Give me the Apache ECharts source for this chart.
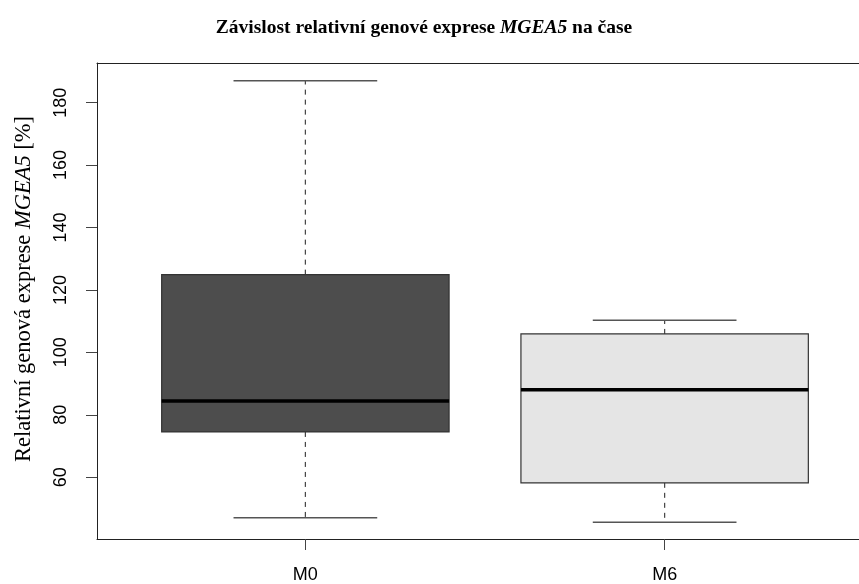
<!DOCTYPE html>
<html>
<head>
<meta charset="utf-8">
<script src="https://cdn.jsdelivr.net/npm/echarts@6/dist/echarts.min.js"></script>
<style>html,body{margin:0;padding:0;background:#fff}#c{width:859px;height:584px}</style>
</head>
<body>
<div id="c"></div>
<script>
// Data
const categories = ['M0', 'M6'];
const whiskerLow = [47.0, 45.6];
const q1 = [74.5, 58.2];
const median = [84.4, 88.0];
const q3 = [124.9, 105.9];
const whiskerHigh = [187.0, 110.3];
const yTicks = [60, 80, 100, 120, 140, 160, 180];

// Styles
const boxFills = ['#4d4d4d', '#e5e5e5'];

const data = categories.map((c, i) => [i + 1, whiskerLow[i], q1[i], median[i], q3[i], whiskerHigh[i]]);

const chart = echarts.init(document.getElementById('c'), null, {renderer: 'canvas'});
chart.setOption({
  animation: false,
  backgroundColor: '#fff',
  title: {
    text: '{a|Závislost relativní genové exprese }{b|MGEA5}{a| na čase}',
    left: 419, top: 13, textAlign: 'center',
    textStyle: {
      rich: {
        a: {fontFamily: 'Liberation Serif', fontWeight: 'bold', fontSize: 19.5, color: '#000'},
        b: {fontFamily: 'Liberation Serif', fontWeight: 'bold', fontStyle: 'italic', fontSize: 19.5, color: '#000'}
      }
    }
  },
  graphic: [{
    type: 'text', x: 24, y: 289, rotation: Math.PI / 2,
    style: {
      text: '{a|Relativní genová exprese }{b|MGEA5}{a| [%]}',
      align: 'center', verticalAlign: 'middle',
      rich: {
        a: {fontFamily: 'Liberation Serif', fontSize: 22.5, fill: '#000'},
        b: {fontFamily: 'Liberation Serif', fontStyle: 'italic', fontSize: 22.5, fill: '#000'}
      }
    }
  }],
  grid: {left: 97, top: 63, right: 0, bottom: 44, show: false},
  xAxis: [{
    type: 'value', min: 0.42, max: 2.541,
    axisLine: {show: true, onZero: false, lineStyle: {color: '#222', width: 1}},
    splitLine: {show: false},
    axisTick: {show: true, customValues: [1, 2], length: 11, lineStyle: {color: '#444'}},
    axisLabel: {customValues: [1, 2], margin: 27, fontFamily: 'Liberation Sans', fontSize: 18, color: '#000',
      formatter: v => categories[Math.round(v) - 1]}
  }, {
    type: 'value', position: 'top', min: 0.42, max: 2.541,
    axisLine: {show: true, onZero: false, lineStyle: {color: '#222', width: 1}},
    splitLine: {show: false}, axisTick: {show: false}, axisLabel: {show: false}
  }],
  yAxis: {
    type: 'value', min: 40.2, max: 192.7,
    axisLine: {show: true, onZero: false, lineStyle: {color: '#222', width: 1}},
    splitLine: {show: false},
    axisTick: {show: true, customValues: yTicks, length: 11, lineStyle: {color: '#444'}},
    axisLabel: {customValues: yTicks, rotate: 90, margin: 27, fontFamily: 'Liberation Sans', fontSize: 18, color: '#000'}
  },
  series: [{
    type: 'custom',
    data: data,
    encode: {x: 0, y: [1, 2, 3, 4, 5]},
    renderItem: function (params, api) {
      const x = api.value(0);
      const idx = params.dataIndex;
      const pLow = api.coord([x, api.value(1)]);
      const pQ1 = api.coord([x, api.value(2)]);
      const pMed = api.coord([x, api.value(3)]);
      const pQ3 = api.coord([x, api.value(4)]);
      const pHigh = api.coord([x, api.value(5)]);
      const halfBox = api.size([0.4, 0])[0];
      const halfCap = api.size([0.2, 0])[0];
      const cx = pMed[0];
      const lineCol = '#333';
      return {
        type: 'group',
        children: [
          {type: 'line', shape: {x1: cx, y1: pQ3[1], x2: cx, y2: pHigh[1]}, style: {stroke: '#444', lineWidth: 1.2, lineDash: [5, 5]}},
          {type: 'line', shape: {x1: cx, y1: pQ1[1], x2: cx, y2: pLow[1]}, style: {stroke: '#444', lineWidth: 1.2, lineDash: [5, 5]}},
          {type: 'line', shape: {x1: cx - halfCap, y1: pHigh[1], x2: cx + halfCap, y2: pHigh[1]}, style: {stroke: '#555', lineWidth: 1.5}},
          {type: 'line', shape: {x1: cx - halfCap, y1: pLow[1], x2: cx + halfCap, y2: pLow[1]}, style: {stroke: '#555', lineWidth: 1.5}},
          {type: 'rect', shape: {x: cx - halfBox, y: pQ3[1], width: 2 * halfBox, height: pQ1[1] - pQ3[1]},
            style: {fill: boxFills[idx], stroke: lineCol, lineWidth: 1.2}},
          {type: 'line', shape: {x1: cx - halfBox, y1: pMed[1], x2: cx + halfBox, y2: pMed[1]}, style: {stroke: '#000', lineWidth: 3.5}}
        ]
      };
    }
  }]
});
</script>
</body>
</html>
